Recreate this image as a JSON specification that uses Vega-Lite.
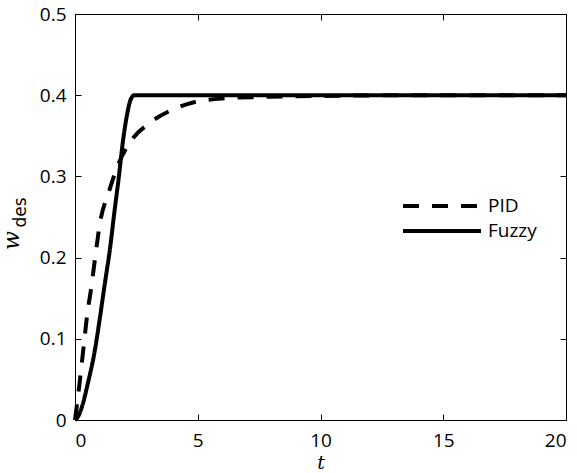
{
  "$schema": "https://vega.github.io/schema/vega-lite/v6.json",
  "width": 491,
  "height": 406,
  "autosize": "none",
  "padding": {"left": 75, "top": 14, "right": 11, "bottom": 53},
  "background": "white",
  "config": {
    "view": {"stroke": "black", "strokeWidth": 1},
    "font": "Open Sans",
    "axis": {
      "grid": false,
      "domainColor": "black",
      "labelFontSize": 19,
      "labelColor": "black",
      "titleColor": "black",
      "labelFont": "Open Sans",
      "titleFont": "DejaVu Serif"
    }
  },
  "data": {
    "values": [
      {"series": "PID", "t": 0, "v": 0},
      {"series": "PID", "t": 0.2, "v": 0.049},
      {"series": "PID", "t": 0.35, "v": 0.09},
      {"series": "PID", "t": 0.49, "v": 0.128},
      {"series": "PID", "t": 0.69, "v": 0.169},
      {"series": "PID", "t": 0.82, "v": 0.2},
      {"series": "PID", "t": 1.02, "v": 0.243},
      {"series": "PID", "t": 1.38, "v": 0.281},
      {"series": "PID", "t": 1.75, "v": 0.314},
      {"series": "PID", "t": 2.24, "v": 0.342},
      {"series": "PID", "t": 3.05, "v": 0.366},
      {"series": "PID", "t": 3.95, "v": 0.382},
      {"series": "PID", "t": 4.81, "v": 0.391},
      {"series": "PID", "t": 6.0, "v": 0.396},
      {"series": "PID", "t": 7.8, "v": 0.398},
      {"series": "PID", "t": 10, "v": 0.399},
      {"series": "PID", "t": 14, "v": 0.4},
      {"series": "PID", "t": 20, "v": 0.4},
      {"series": "Fuzzy", "t": 0, "v": 0},
      {"series": "Fuzzy", "t": 0.12, "v": 0.004},
      {"series": "Fuzzy", "t": 0.3, "v": 0.018},
      {"series": "Fuzzy", "t": 0.53, "v": 0.046},
      {"series": "Fuzzy", "t": 0.81, "v": 0.086},
      {"series": "Fuzzy", "t": 1.02, "v": 0.127},
      {"series": "Fuzzy", "t": 1.22, "v": 0.169},
      {"series": "Fuzzy", "t": 1.43, "v": 0.212},
      {"series": "Fuzzy", "t": 1.6, "v": 0.255},
      {"series": "Fuzzy", "t": 1.78, "v": 0.298},
      {"series": "Fuzzy", "t": 1.96, "v": 0.345},
      {"series": "Fuzzy", "t": 2.12, "v": 0.376},
      {"series": "Fuzzy", "t": 2.26, "v": 0.394},
      {"series": "Fuzzy", "t": 2.42, "v": 0.4},
      {"series": "Fuzzy", "t": 20, "v": 0.4}
    ]
  },
  "layer": [
    {
      "mark": {"type": "line", "strokeWidth": 4, "color": "black", "strokeCap": "butt", "interpolate": "monotone"},
      "encoding": {
        "x": {"field": "t", "type": "quantitative", "scale": {"domain": [0, 20], "nice": false},
          "axis": {"values": [0, 5, 10, 15, 20], "ticks": true, "tickSize": -6, "tickColor": "black", "tickWidth": 1, "title": "t", "titleFontStyle": "italic", "titleFontWeight": "normal", "titleFontSize": 19, "labelPadding": 17, "titlePadding": 3}},
        "y": {"field": "v", "type": "quantitative", "scale": {"domain": [0, 0.5], "nice": false},
          "axis": {"values": [0, 0.1, 0.2, 0.3, 0.4, 0.5], "ticks": true, "tickSize": -6, "tickColor": "black", "tickWidth": 1, "format": "~g", "title": "w", "titleFontStyle": "italic", "titleFontWeight": "normal", "titleFontSize": 22, "titleAngle": 270, "titleBaseline": "alphabetic", "titleAlign": "center", "titleX": -57, "titleY": 226, "labelPadding": 15}},
        "strokeDash": {"field": "series", "type": "nominal",
          "scale": {"domain": ["PID", "Fuzzy"], "range": [[16, 13], [1, 0]]},
          "legend": {"title": null, "orient": "none", "legendX": 352, "legendY": 177, "symbolType": "M-3,0H3", "symbolSize": 676, "symbolStrokeWidth": 4, "symbolStrokeColor": "black", "labelFontSize": 19, "labelFont": "Open Sans", "labelColor": "black", "rowPadding": 0, "labelOffset": 31, "symbolDash": [16, 13]}}
      }
    },
    {
      "mark": {"type": "line", "opacity": 0},
      "encoding": {
        "x": {"field": "t", "type": "quantitative", "scale": {"domain": [0, 20], "nice": false},
          "axis": {"orient": "top", "values": [0, 5, 10, 15, 20], "ticks": true, "tickSize": -6, "tickColor": "black", "tickWidth": 1, "labels": false, "title": null}},
        "y": {"field": "v", "type": "quantitative", "scale": {"domain": [0, 0.5], "nice": false},
          "axis": {"orient": "right", "values": [0, 0.1, 0.2, 0.3, 0.4, 0.5], "ticks": true, "tickSize": -6, "tickColor": "black", "tickWidth": 1, "labels": false, "title": "des", "titleFont": "DejaVu Sans", "titleFontWeight": "normal", "titleFontSize": 17, "titleAngle": 270, "titleBaseline": "alphabetic", "titleAlign": "center", "titleX": -541, "titleY": 198}}
      }
    }
  ],
  "resolve": {"axis": {"x": "independent", "y": "independent"}}
}
